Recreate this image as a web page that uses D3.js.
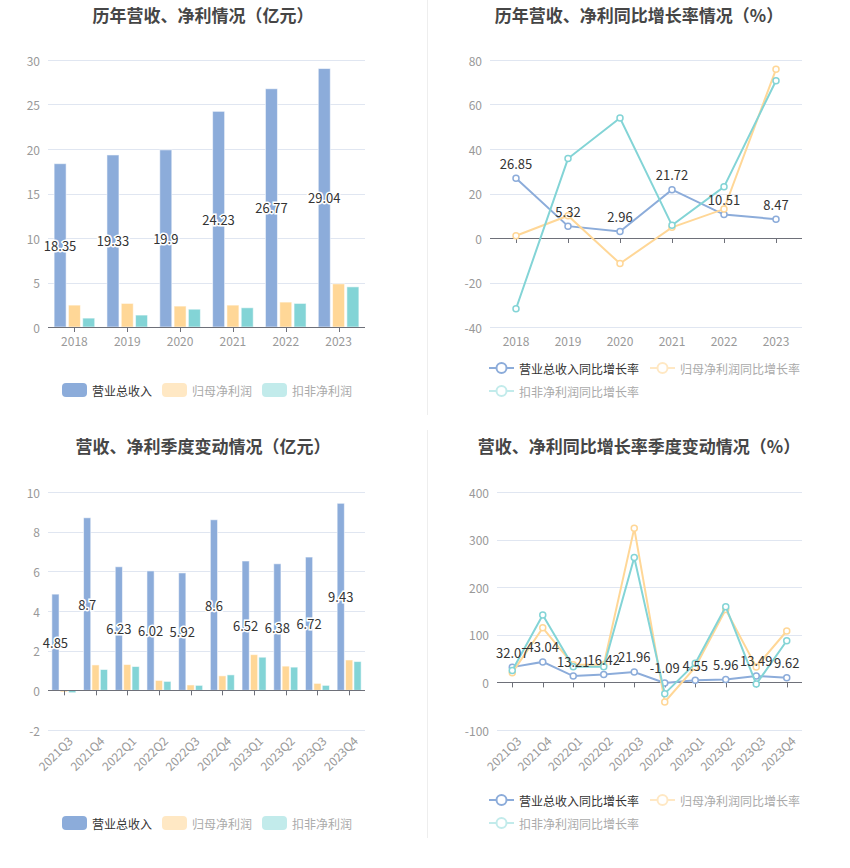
<!DOCTYPE html>
<html>
<head>
<meta charset="utf-8">
<script src="https://cdn.jsdelivr.net/npm/d3@7"></script>
<style>
  body { margin: 0; background: #fff; }
  svg { display: block; font-family: "Microsoft YaHei", "Noto Sans CJK SC", sans-serif; }
  .grid line { stroke: #e0e6f1; }
  .tick-label { fill: #999; font-size: 12px; }
  .title { fill: #464646; font-size: 17px; font-weight: bold; }
  .val { fill: #333; font-size: 13px; }
</style>
</head>
<body>
<div id="chart"></div>
<script>
// yearly data
let years = ["2018", "2019", "2020", "2021", "2022", "2023"];
let revenue = [18.35, 19.33, 19.9, 24.23, 26.77, 29.04];
let netProfit = [2.46, 2.65, 2.35, 2.46, 2.8, 4.85];
let deductProfit = [1.0, 1.34, 2.0, 2.16, 2.65, 4.51];

let revenueGrowth = [26.85, 5.32, 2.96, 21.72, 10.51, 8.47];
let netGrowth = [1.0, 10.0, -11.5, 4.8, 13.0, 75.8];
let deductGrowth = [-31.8, 35.7, 53.9, 5.7, 23.0, 70.7];

// quarterly data
let quarters = ["2021Q3", "2021Q4", "2022Q1", "2022Q2", "2022Q3", "2022Q4", "2023Q1", "2023Q2", "2023Q3", "2023Q4"];
let qRevenue = [4.85, 8.7, 6.23, 6.02, 5.92, 8.6, 6.52, 6.38, 6.72, 9.43];
let qNetProfit = [-0.08, 1.28, 1.3, 0.5, 0.27, 0.73, 1.8, 1.22, 0.35, 1.53];
let qDeductProfit = [-0.12, 1.05, 1.2, 0.45, 0.25, 0.78, 1.67, 1.17, 0.25, 1.45];

let qRevenueGrowth = [32.07, 43.04, 13.21, 16.42, 21.96, -1.09, 4.55, 5.96, 13.49, 9.62];
let qNetGrowth = [20.5, 114.6, 37, 37, 323.6, -41, 32, 153, 32.6, 108];
let qDeductGrowth = [25, 141.7, 33, 33, 262.5, -23.6, 40, 159, -3.5, 87.5];

let barNames = ["营业总收入", "归母净利润", "扣非净利润"];
let lineNames = ["营业总收入同比增长率", "归母净利润同比增长率", "扣非净利润同比增长率"];
let colors = ["#8cacda", "#ffd797", "#83d4d6"];
let paleColors = ["#8cacda", "#ffe8c4", "#c2ebeb"];

let width = 850, height = 868;

let svg = d3.select("#chart").append("svg")
    .attr("width", width)
    .attr("height", height);

// dividers
svg.append("line").attr("x1", 427.5).attr("x2", 427.5).attr("y1", 0).attr("y2", 415)
    .attr("stroke", "#eeeeee");
svg.append("line").attr("x1", 427.5).attr("x2", 427.5).attr("y1", 430).attr("y2", 838)
    .attr("stroke", "#eeeeee");

function title(text, cx, cy) {
  svg.append("text")
    .attr("class", "title")
    .attr("x", cx).attr("y", cy)
    .attr("text-anchor", "middle")
    .attr("dominant-baseline", "central")
    .text(text);
}

function yAxis(y, ticks, x0, x1) {
  let g = svg.append("g").attr("class", "grid");
  g.selectAll("line").data(ticks).enter().append("line")
    .attr("x1", x0).attr("x2", x1)
    .attr("y1", d => Math.round(y(d)) + 0.5).attr("y2", d => Math.round(y(d)) + 0.5);
  svg.append("g").selectAll("text").data(ticks).enter().append("text")
    .attr("class", "tick-label")
    .attr("x", x0 - 8).attr("y", d => y(d))
    .attr("text-anchor", "end")
    .attr("dominant-baseline", "central")
    .text(d => d);
}

function xAxis(cats, xc, x0, x1, y0, labelY, rotate) {
  svg.append("line")
    .attr("x1", x0).attr("x2", x1)
    .attr("y1", Math.round(y0) + 0.5).attr("y2", Math.round(y0) + 0.5)
    .attr("stroke", "#6e7079");
  svg.append("g").selectAll("line").data(cats).enter().append("line")
    .attr("x1", d => Math.round(xc(d)) + 0.5).attr("x2", d => Math.round(xc(d)) + 0.5)
    .attr("y1", y0).attr("y2", y0 + 5)
    .attr("stroke", "#6e7079");
  let lbl = svg.append("g").selectAll("text").data(cats).enter().append("text")
    .attr("class", "tick-label")
    .text(d => d);
  if (rotate) {
    lbl.attr("text-anchor", "end")
      .attr("transform", d => "translate(" + (xc(d) + 4) + "," + (labelY) + ") rotate(-45)")
      .attr("dy", "0.7em");
  } else {
    lbl.attr("x", d => xc(d)).attr("y", labelY)
      .attr("text-anchor", "middle")
      .attr("dominant-baseline", "central");
  }
}

function barLegend(y) {
  let xs = [62, 162, 262];
  barNames.forEach((n, i) => {
    svg.append("rect")
      .attr("x", xs[i]).attr("y", y - 7)
      .attr("width", 25).attr("height", 14)
      .attr("rx", 4)
      .attr("fill", paleColors[i]);
    svg.append("text")
      .attr("x", xs[i] + 30).attr("y", y)
      .attr("dominant-baseline", "central")
      .attr("font-size", 12)
      .attr("fill", i == 0 ? "#333" : "#aaa")
      .text(n);
  });
}

function lineLegend(y1, y2) {
  let pos = [[489, y1], [650, y1], [489, y2]];
  lineNames.forEach((n, i) => {
    let [x, y] = pos[i];
    svg.append("line")
      .attr("x1", x).attr("x2", x + 25).attr("y1", y).attr("y2", y)
      .attr("stroke", paleColors[i]).attr("stroke-width", 2);
    svg.append("circle")
      .attr("cx", x + 12.5).attr("cy", y).attr("r", 5)
      .attr("fill", "#fff").attr("stroke", paleColors[i]).attr("stroke-width", 2);
    svg.append("text")
      .attr("x", x + 30).attr("y", y)
      .attr("dominant-baseline", "central")
      .attr("font-size", 12)
      .attr("fill", i == 0 ? "#333" : "#aaa")
      .text(n);
  });
}

function barChart(cats, series, x0, x1, yTop, yBottom, domain, step, barW, gap, labelY, rotate) {
  let x = d3.scaleBand().domain(cats).range([x0, x1]);
  let y = d3.scaleLinear().domain(domain).range([yBottom, yTop]);
  let ticks = d3.range(domain[0], domain[1] + step / 2, step);
  yAxis(y, ticks, x0, x1);
  let xc = d => x(d) + x.bandwidth() / 2;
  let groupW = barW * 3 + gap * 2;

  series.forEach((vals, s) => {
    svg.append("g").selectAll("rect")
      .data(vals)
      .enter().append("rect")
      .attr("x", (d, i) => xc(cats[i]) - groupW / 2 + s * (barW + gap))
      .attr("y", d => y(Math.max(0, d)))
      .attr("width", barW)
      .attr("height", d => Math.abs(y(d) - y(0)))
      .attr("fill", colors[s])
      .attr("stroke", "rgba(255,255,255,0.55)")
      .attr("stroke-width", 1);
  });
  xAxis(cats, xc, x0, x1, y(0), labelY, rotate);

  // labels in the middle of the revenue bars
  svg.append("g").selectAll("text")
    .data(series[0])
    .enter().append("text")
    .attr("class", "val")
    .attr("x", (d, i) => xc(cats[i]) - groupW / 2 + barW / 2)
    .attr("y", d => y(d / 2))
    .attr("text-anchor", "middle")
    .attr("dominant-baseline", "central")
    .attr("stroke", "#fff").attr("stroke-width", 3)
    .attr("paint-order", "stroke")
    .text(d => d);
}

function lineChart(cats, series, x0, x1, yTop, yBottom, domain, step, labelY, rotate) {
  let x = d3.scaleBand().domain(cats).range([x0, x1]);
  let y = d3.scaleLinear().domain(domain).range([yBottom, yTop]);
  let ticks = d3.range(domain[0], domain[1] + step / 2, step);
  yAxis(y, ticks, x0, x1);
  let xc = d => x(d) + x.bandwidth() / 2;
  xAxis(cats, xc, x0, x1, y(0), labelY, rotate);

  let line = d3.line().x((d, i) => xc(cats[i])).y(d => y(d));
  series.forEach((vals, s) => {
    svg.append("path")
      .datum(vals)
      .attr("d", line)
      .attr("fill", "none")
      .attr("stroke", colors[s])
      .attr("stroke-width", 2);
    svg.append("g").selectAll("circle")
      .data(vals)
      .enter().append("circle")
      .attr("cx", (d, i) => xc(cats[i]))
      .attr("cy", d => y(d))
      .attr("r", 3)
      .attr("fill", "#fff")
      .attr("stroke", colors[s])
      .attr("stroke-width", 1.5);
  });

  svg.append("g").selectAll("text")
    .data(series[0])
    .enter().append("text")
    .attr("class", "val")
    .attr("x", (d, i) => xc(cats[i]))
    .attr("y", d => y(d) - 15)
    .attr("text-anchor", "middle")
    .attr("dominant-baseline", "central")
    .text(d => d);
}

// top left
title("历年营收、净利情况（亿元）", 203, 14);
barChart(years, [revenue, netProfit, deductProfit], 48, 365, 60, 327, [0, 30], 5, 12, 2.3, 340, false);
barLegend(390);

// top right
title("历年营收、净利同比增长率情况（%）", 639, 14);
lineChart(years, [revenueGrowth, netGrowth, deductGrowth], 490, 802, 60, 327, [-40, 80], 20, 340, false);
lineLegend(368, 391);

// bottom left
title("营收、净利季度变动情况（亿元）", 203, 445);
barChart(quarters, [qRevenue, qNetProfit, qDeductProfit], 48, 365, 492, 730, [-2, 10], 2, 7.2, 1.2, 736, true);
barLegend(823);

// bottom right
title("营收、净利同比增长率季度变动情况（%）", 639, 445);
lineChart(quarters, [qRevenueGrowth, qNetGrowth, qDeductGrowth], 497, 802, 492, 730, [-100, 400], 100, 736, true);
lineLegend(800, 823);
</script>
</body>
</html>
